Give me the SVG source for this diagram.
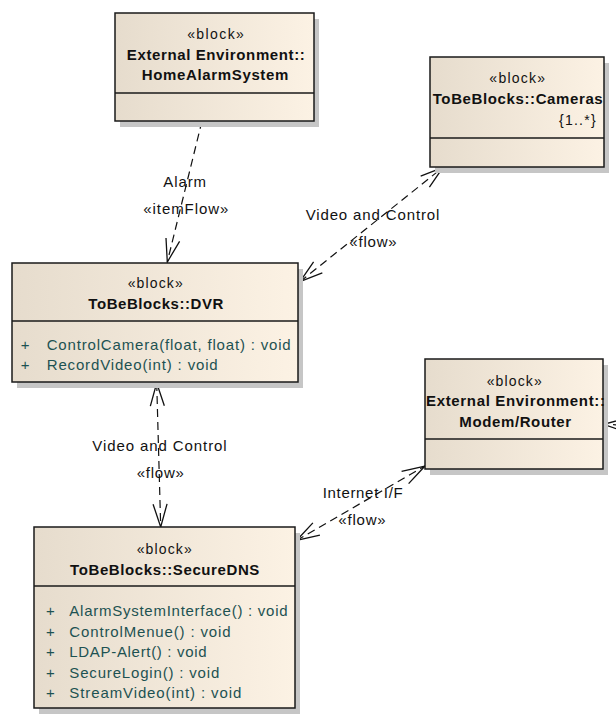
<svg xmlns="http://www.w3.org/2000/svg" width="616" height="721" viewBox="0 0 616 721">
<style>
  .box { fill: url(#blockFill); stroke: #1a1a1a; stroke-width: 1.5; }
  .shadow { fill: #c6c6c6; }
  .sep { stroke: #1a1a1a; stroke-width: 1.5; fill: none; }
  .st { font-family: "Liberation Sans", Arial, sans-serif; font-size: 14px; fill: #111; text-anchor: middle; }
  .nm { font-family: "Liberation Sans", Arial, sans-serif; font-size: 15px; font-weight: bold; fill: #111; text-anchor: middle; }
  .op { font-family: "Liberation Sans", Arial, sans-serif; font-size: 15px; fill: #1d5252; }
  .lb { font-family: "Liberation Sans", Arial, sans-serif; font-size: 15px; fill: #111; text-anchor: middle; }
  .conn { fill: none; stroke: #111; stroke-width: 1.2; stroke-dasharray: 8 5; }
</style>
<defs>
  <linearGradient id="blockFill" x1="0" y1="0" x2="1" y2="0">
    <stop offset="0" stop-color="#e6dccd"/>
    <stop offset="1" stop-color="#fcf2e4"/>
  </linearGradient>
  <marker id="open" markerUnits="userSpaceOnUse" markerWidth="30" markerHeight="20" viewBox="-26 -10 30 20" refX="0" refY="0" orient="auto-start-reverse" overflow="visible">
    <path d="M-23,-7 L0,0 L-23,7" fill="none" stroke="#111" stroke-width="1.3" stroke-dasharray="none"/>
  </marker>
</defs>

<g id="connectors">
  <path class="conn" d="M202,121 L167.3,262" marker-end="url(#open)"/>
  <path class="conn" d="M300,281.7 L443,167.3" marker-start="url(#open)" marker-end="url(#open)"/>
  <path class="conn" d="M156.7,383 L160.7,527" marker-start="url(#open)" marker-end="url(#open)"/>
  <path class="conn" d="M296.5,540.5 L425,466" marker-start="url(#open)" marker-end="url(#open)"/>
  <path class="conn" d="M660,426.5 L603.5,424.3" marker-end="url(#open)"/>
  <text class="lb" x="184.7" y="186.7" textLength="42.7" lengthAdjust="spacing">Alarm</text>
  <text class="lb" x="185.8" y="214" textLength="85" lengthAdjust="spacing">«itemFlow»</text>
  <text class="lb" x="372.5" y="220" textLength="133.7" lengthAdjust="spacing">Video and Control</text>
  <text class="lb" x="373" y="246.7" textLength="47.3" lengthAdjust="spacing">«flow»</text>
  <text class="lb" x="159.5" y="451" textLength="134.3" lengthAdjust="spacing">Video and Control</text>
  <text class="lb" x="160.3" y="477.7" textLength="47.3" lengthAdjust="spacing">«flow»</text>
  <text class="lb" x="362.7" y="498.3" textLength="80" lengthAdjust="spacing">Internet I/F</text>
  <text class="lb" x="362" y="525" textLength="47.3" lengthAdjust="spacing">«flow»</text>
</g>

<g id="homeAlarmSystem">
  <rect class="shadow" x="120" y="19" width="199" height="108"/>
  <rect class="box" x="115" y="13" width="199" height="108"/>
  <line class="sep" x1="115" y1="93" x2="314" y2="93"/>
  <text class="st" x="215.5" y="38.7" textLength="56.7" lengthAdjust="spacing">«block»</text>
  <text class="nm" x="215.8" y="60" textLength="178" lengthAdjust="spacing">External Environment::</text>
  <text class="nm" x="215" y="80.3" textLength="146.7" lengthAdjust="spacing">HomeAlarmSystem</text>
</g>

<g id="cameras">
  <rect class="shadow" x="435" y="63" width="174" height="110"/>
  <rect class="box" x="430" y="57" width="174" height="110"/>
  <line class="sep" x1="430" y1="138" x2="604" y2="138"/>
  <text class="st" x="517.2" y="83.3" textLength="55.7" lengthAdjust="spacing">«block»</text>
  <text class="nm" x="517.7" y="104" textLength="170" lengthAdjust="spacing">ToBeBlocks::Cameras</text>
  <text class="st" x="577.3" y="124.5" textLength="36.7" lengthAdjust="spacing">{1..*}</text>
</g>

<g id="dvr">
  <rect class="shadow" x="17" y="269" width="286" height="119"/>
  <rect class="box" x="12" y="263" width="286" height="119"/>
  <line class="sep" x1="12" y1="321" x2="298" y2="321"/>
  <text class="st" x="155.2" y="288.3" textLength="55" lengthAdjust="spacing">«block»</text>
  <text class="nm" x="155.8" y="309" textLength="135" lengthAdjust="spacing">ToBeBlocks::DVR</text>
  <text class="op" x="20.7" y="349.7">+</text>
  <text class="op" x="46.7" y="349.7" textLength="244" lengthAdjust="spacing">ControlCamera(float, float) : void</text>
  <text class="op" x="20.7" y="370">+</text>
  <text class="op" x="46.7" y="370" textLength="171" lengthAdjust="spacing">RecordVideo(int) : void</text>
</g>

<g id="modemRouter">
  <rect class="shadow" x="430" y="365" width="178" height="110"/>
  <rect class="box" x="425" y="359" width="178" height="110"/>
  <line class="sep" x1="425" y1="439" x2="603" y2="439"/>
  <text class="st" x="514.2" y="386" textLength="55" lengthAdjust="spacing">«block»</text>
  <text class="nm" x="515.5" y="406" textLength="179" lengthAdjust="spacing">External Environment::</text>
  <text class="nm" x="515.2" y="426.7" textLength="111.7" lengthAdjust="spacing">Modem/Router</text>
</g>

<g id="secureDNS">
  <rect class="shadow" x="39" y="533" width="261" height="181"/>
  <rect class="box" x="34" y="527" width="261" height="181"/>
  <line class="sep" x1="34" y1="586" x2="295" y2="586"/>
  <text class="st" x="164.2" y="554.3" textLength="55" lengthAdjust="spacing">«block»</text>
  <text class="nm" x="164.7" y="575" textLength="189.3" lengthAdjust="spacing">ToBeBlocks::SecureDNS</text>
  <text class="op" x="46" y="616">+</text>
  <text class="op" x="69.3" y="616" textLength="218.3" lengthAdjust="spacing">AlarmSystemInterface() : void</text>
  <text class="op" x="46" y="636.7">+</text>
  <text class="op" x="69.3" y="636.7" textLength="161.3" lengthAdjust="spacing">ControlMenue() : void</text>
  <text class="op" x="46" y="657">+</text>
  <text class="op" x="69.3" y="657" textLength="137.3" lengthAdjust="spacing">LDAP-Alert() : void</text>
  <text class="op" x="46" y="677.5">+</text>
  <text class="op" x="69.3" y="677.5" textLength="150" lengthAdjust="spacing">SecureLogin() : void</text>
  <text class="op" x="46" y="698.3">+</text>
  <text class="op" x="69.3" y="698.3" textLength="172" lengthAdjust="spacing">StreamVideo(int) : void</text>
</g>
</svg>
